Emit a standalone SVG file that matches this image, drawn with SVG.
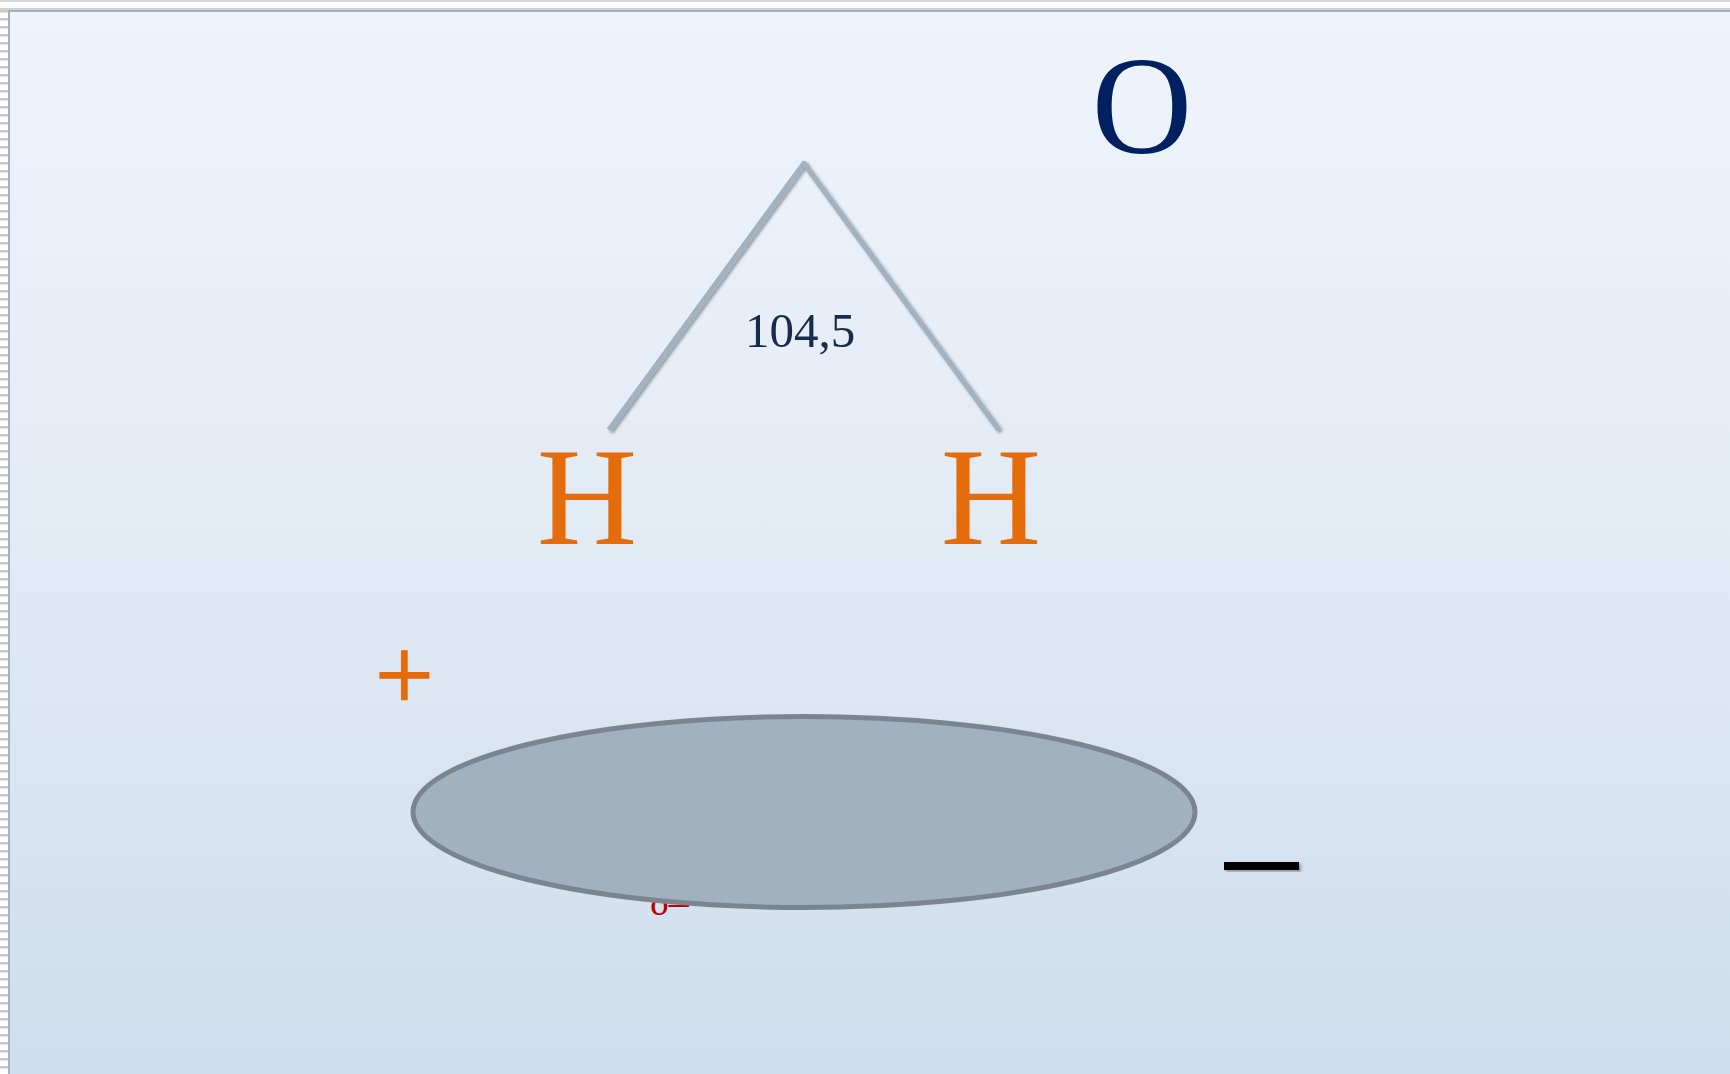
<svg xmlns="http://www.w3.org/2000/svg" width="1730" height="1074" viewBox="0 0 1730 1074">
  <defs>
    <linearGradient id="bg" x1="0" y1="0" x2="0" y2="1">
      <stop offset="0" stop-color="#eff4fc"/>
      <stop offset="0.5" stop-color="#e2eaf4"/>
      <stop offset="1" stop-color="#cddeee"/>
    </linearGradient>
    <pattern id="ticks" x="0" y="2" width="8" height="8" patternUnits="userSpaceOnUse">
      <rect x="0" y="0" width="8" height="2.5" fill="#c9c9c9"/>
    </pattern>
    <filter id="shadow" x="-20%" y="-20%" width="140%" height="140%">
      <feDropShadow dx="2" dy="2" stdDeviation="1.5" flood-color="#000" flood-opacity="0.35"/>
    </filter>
  </defs>
  <style>
    .atom { font-family: "Liberation Serif", "Times New Roman", serif; font-size: 139px; }
    .bond { stroke: #a3b2c1; stroke-width: 5.5; stroke-linecap: butt; filter: url(#shadow); }
  </style>
  <rect x="0" y="0" width="1730" height="1074" fill="#ffffff"/>
  <rect x="0" y="0" width="1730" height="2" fill="#d9d9d9"/>
  <rect x="0" y="8" width="1730" height="2" fill="#d0d0d0"/>
  <rect x="0" y="10" width="8" height="1064" fill="url(#ticks)"/>
  <rect x="8" y="10" width="1722" height="1064" fill="url(#bg)"/>
  <rect x="8" y="10" width="1722" height="2" fill="#a3b2c3"/>
  <rect x="8" y="10" width="2" height="1064" fill="#a3b2c3"/>

  <g id="label-minus-charge-hidden">
    <text x="650" y="915" font-family="Liberation Serif, serif" font-size="40" fill="#c00000">δ–</text>
  </g>

  <g id="connectors">
    <line class="bond" x1="609" y1="430" x2="805" y2="162"/>
    <line class="bond" x1="803" y1="162" x2="999" y2="430"/>
  </g>

  <g id="node-O">
    <text class="atom" x="1142" y="153" text-anchor="middle" fill="#002060" font-size="135">O</text>
  </g>
  <g id="node-H1">
    <text class="atom" x="587" y="544" text-anchor="middle" fill="#e46c0a">H</text>
  </g>
  <g id="node-H2">
    <text class="atom" x="991" y="544" text-anchor="middle" fill="#e46c0a">H</text>
  </g>
  <g id="angle-label">
    <text x="800" y="347" text-anchor="middle" font-family="Liberation Serif, serif" font-size="49" fill="#172b4a">104,5</text>
  </g>
  <g id="plus">
    <text x="375" y="710" font-family="Liberation Serif, serif" font-size="104" fill="#e46c0a" stroke="#e46c0a" stroke-width="1.5">+</text>
  </g>
  <g id="ellipse">
    <ellipse cx="804" cy="812" rx="391" ry="95.5" fill="#a2b1c0" stroke="#7b858f" stroke-width="5"/>
  </g>
  <g id="minus">
    <rect x="1224" y="862" width="75" height="8" fill="#000000" filter="url(#shadow)"/>
  </g>
</svg>
